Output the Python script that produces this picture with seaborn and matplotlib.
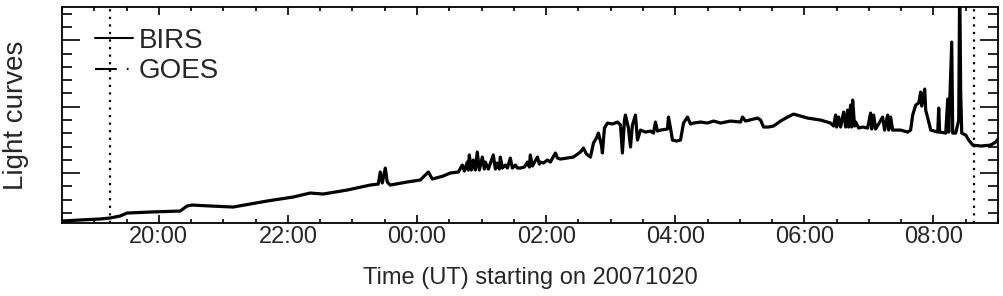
import numpy as np
import pandas as pd
import matplotlib
matplotlib.use("Agg")
import matplotlib.pyplot as plt
import matplotlib.dates as mdates
from matplotlib.lines import Line2D
from matplotlib.ticker import FixedLocator
import seaborn as sns

# ---------------- data ----------------
start_time = "2007-10-20 18:30"
end_time = "2007-10-21 09:00"

# BIRS light curve: minutes after 18:30 UT and relative flux (arbitrary units)
birs_minutes = [
    0, 16.7, 35.3, 44.7, 54, 60.5, 81.9, 109.8, 116.3, 120.9, 137.7, 159.1,
    174.9, 190.7, 202.8, 214.9, 230.7, 242.8, 265.1, 286.5, 294, 295.8, 297.7,
    300.5, 302.3, 305.1, 320.9, 333, 340.5, 344.2,
    354.4, 360.9, 368.4, 372.1, 374.0, 376.7, 377.7, 378.6, 380.5, 382.3,
    384.2, 386.0, 387.9, 390.7, 392.6, 393.5, 396.3, 400.9, 402.8, 404.6,
    406.5, 407.4, 409.3, 412.1, 414.0, 416.7, 418.6, 421.4, 423.3, 426.0,
    429.8, 432.6, 434.4, 435.3, 437.2, 441.9, 443.7, 444.7, 447.4, 451.2,
    453.9, 458.6, 460.5, 463.3,
    475.3, 481.9, 484.7, 487.4, 491.2, 494, 496.7, 498.6, 501.4, 502.3, 504.2,
    507, 511.6, 516.3, 519.1, 520.9, 522.8, 523.7, 526.5, 528.4, 530.2, 533,
    534.9, 537.7, 542.3, 547, 549.8, 551.6, 553.5, 556.3, 562.8, 563.7, 565.6,
    567.4, 571.2, 574.9, 577.7, 581.4, 584.2, 587, 593.5, 600, 605.6, 612.1,
    621.4, 630.7, 632.6, 635.3, 646.5, 649.3, 652.1, 656.7, 661.4, 667.9,
    674.4, 680, 686.5, 693,
    705.1, 714.4, 717.2, 719.1, 720.0, 721.9, 723.7, 726.5, 728.4, 730.2,
    731.2, 733.0, 734.0, 734.9, 736.7, 737.7, 740.5, 744.2, 748.8, 751.6,
    752.6, 754.4, 756.3, 762.8, 764.6, 767.4, 768.4, 770.2, 772.1, 779.5,
    786.0, 788.8, 790.7, 793.5, 796.3, 798.1, 799.1, 801.9, 802.8, 804.7,
    807.5,
    814, 814.9, 815.8, 821.4, 823.3, 824.2, 827, 827.9, 830.7, 833.5, 834.4,
    835.3, 836.3, 840, 842.8, 846.5, 854, 863.3, 867.9, 870.7,
]
birs_flux = [
    0.03, 0.045, 0.06, 0.075, 0.105, 0.15, 0.165, 0.18, 0.256, 0.27, 0.256, 0.24,
    0.286, 0.331, 0.361, 0.391, 0.451, 0.436, 0.496, 0.571, 0.586, 0.767, 0.602,
    0.827, 0.617, 0.571, 0.617, 0.647, 0.767, 0.662,
    0.707, 0.752, 0.767, 0.872, 0.782, 0.917, 0.797, 1.023, 0.797, 0.947,
    0.797, 1.068, 0.797, 0.992, 0.812, 0.917, 0.812, 1.023, 0.812, 0.902,
    0.812, 0.992, 0.827, 0.872, 0.827, 0.977, 0.827, 0.872, 0.827, 0.827,
    0.842, 0.917, 0.842, 1.023, 0.857, 0.992, 0.887, 0.917, 0.902, 0.947,
    0.917, 1.053, 0.977, 0.962,
    0.992, 1.068, 1.128, 1.038, 0.992, 1.203, 1.278, 1.353, 1.173, 1.053, 1.429,
    1.504, 1.489, 1.519, 1.474, 1.053, 1.549, 1.624, 1.429, 1.143, 1.474, 1.624,
    1.248, 1.398, 1.368, 1.383, 1.353, 1.519, 1.383, 1.398, 1.414, 1.594, 1.429,
    1.248, 1.233, 1.248, 1.504, 1.594, 1.489, 1.504, 1.519, 1.504, 1.534, 1.504,
    1.534, 1.519, 1.594, 1.534, 1.579, 1.549, 1.444, 1.444, 1.459, 1.534,
    1.594, 1.639, 1.609, 1.579,
    1.549, 1.504, 1.459, 1.624, 1.444, 1.594, 1.444, 1.669, 1.444, 1.699,
    1.444, 1.774, 1.444, 1.850, 1.459, 1.519, 1.429, 1.444, 1.429, 1.654,
    1.414, 1.624, 1.414, 1.594, 1.398, 1.624, 1.398, 1.594, 1.398, 1.398,
    1.368, 1.398, 1.624, 1.774, 1.805, 1.970, 1.759, 2.015, 1.699, 1.579,
    1.398,
    1.368, 1.729, 1.368, 1.353, 1.865, 1.368, 2.722, 1.353, 1.353, 1.549, 3.65,
    1.970, 1.353, 1.323, 1.248, 1.173, 1.158, 1.173, 1.218, 1.278,
]

# GOES curve (listed in the legend, not visible in the plotted range)
goes_minutes = []
goes_flux = []

# event markers (dotted vertical lines)
event_times = ["2007-10-20 19:15", "2007-10-21 08:38"]

series_labels = ["BIRS", "GOES"]
x_label = "Time (UT) starting on 20071020"
y_label = "Light curves"

# ---------------- figure ----------------
sns.set_theme(style="ticks")
plt.rcParams["font.family"] = ["Liberation Sans", "DejaVu Sans"]

t0 = pd.Timestamp(start_time)
df = pd.DataFrame({
    "time": t0 + pd.to_timedelta(birs_minutes, unit="m"),
    "flux": birs_flux,
})

fig = plt.figure(figsize=(10.04, 2.96), dpi=100)
ax = fig.add_axes([62 / 1004, 1 - 223 / 296, 936 / 1004, 216 / 296])

sns.lineplot(data=df, x="time", y="flux", ax=ax, color="black", lw=2.3,
             estimator=None, sort=False, legend=False)
goes_line, = ax.plot(t0 + pd.to_timedelta(goes_minutes, unit="m"), goes_flux,
                     color="black", lw=1.5, linestyle=(0, (10.5, 4.8, 0.8, 4.8)))

for et in event_times:
    ax.axvline(pd.Timestamp(et), color="black", lw=1.6, linestyle=(0, (1, 2.4)))

ax.set_xlim(pd.Timestamp(start_time), pd.Timestamp(end_time))
ax.set_ylim(0, 3.25)

ax.xaxis.set_major_locator(mdates.HourLocator(byhour=range(0, 24, 2)))
ax.xaxis.set_major_formatter(mdates.DateFormatter("%H:%M"))
ax.xaxis.set_minor_locator(mdates.MinuteLocator(byminute=[0, 30]))
ax.yaxis.set_major_locator(FixedLocator([0.75, 1.75, 2.75]))
ax.yaxis.set_minor_locator(FixedLocator(np.arange(0.15, 3.25, 0.2)))
ax.set_yticklabels([])

ax.tick_params(axis="both", which="both", direction="in", top=True, right=True,
               color="black", width=1.2)
ax.tick_params(axis="x", which="major", length=5.8, labelsize=17, pad=2)
ax.tick_params(axis="x", which="minor", length=3)
ax.tick_params(axis="y", which="major", length=13)
ax.tick_params(axis="y", which="minor", length=7)
for s in ax.spines.values():
    s.set_linewidth(1.3)
    s.set_color("black")

ax.set_xlabel(x_label, fontsize=17, labelpad=14)
ax.set_ylabel(y_label, fontsize=20, labelpad=20)

handles = [Line2D([], [], color="black", lw=1.5),
           Line2D([], [], color="black", lw=1.5, linestyle=(0, (10.5, 4.8, 0.8, 4.8)))]
ax.legend(handles, series_labels, loc="upper left", bbox_to_anchor=(0.035, 0.905),
          frameon=False, fontsize=20, borderaxespad=0, borderpad=0,
          handlelength=1.37, handletextpad=0.2, labelspacing=0.17)

fig.savefig("out.png", dpi=100)
